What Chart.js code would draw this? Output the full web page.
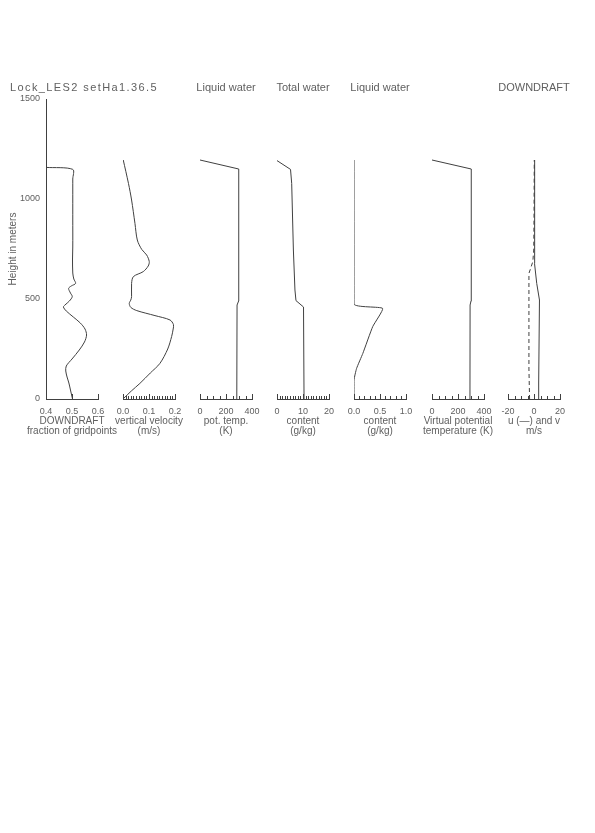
<!DOCTYPE html>
<html>
<head>
<meta charset="utf-8">
<script src="https://cdn.jsdelivr.net/npm/chart.js@4.4.0/dist/chart.umd.min.js"></script>
<style>
  html, body { margin: 0; padding: 0; background: #fff; }
  #page { position: relative; width: 595px; height: 833px; overflow: hidden; background: #fff; }
  #page canvas { position: absolute; }
</style>
</head>
<body>
<div id="page"></div>
<script>
// heights in metres
const heightTicks = [0, 500, 1000, 1500];

const fracHeight = [0, 40, 80, 110, 140, 165, 200, 245, 285, 320, 350, 380, 410, 440, 460, 470, 490, 512, 530, 553, 565, 578, 600, 630, 700, 760, 900, 1000, 1100, 1148, 1158];
const fracValue  = [0.502, 0.495, 0.488, 0.481, 0.476, 0.478, 0.500, 0.528, 0.548, 0.556, 0.550, 0.532, 0.505, 0.478, 0.467, 0.473, 0.490, 0.501, 0.494, 0.487, 0.497, 0.514, 0.507, 0.503, 0.502, 0.503, 0.503, 0.503, 0.503, 0.503, 0.400];

const wHeight = [0, 40, 78, 130, 178, 250, 312, 350, 372, 395, 417, 442, 458, 478, 495, 512, 578, 612, 637, 665, 687, 720, 748, 795, 878, 995, 1078, 1195];
const wValue  = [0.000, 0.032, 0.065, 0.105, 0.142, 0.172, 0.187, 0.193, 0.194, 0.181, 0.123, 0.053, 0.030, 0.024, 0.030, 0.033, 0.033, 0.040, 0.078, 0.097, 0.101, 0.091, 0.072, 0.055, 0.046, 0.033, 0.021, 0.001];

const thetaHeight = [0, 470, 490, 1150, 1195];
const thetaValue  = [283, 285, 297, 298, 0];

const qtHeight = [0, 460, 492, 545, 745, 1078, 1148, 1192];
const qtValue  = [10.4, 10.2, 7.3, 6.9, 6.3, 5.65, 5.2, 0];

const qlHeight = [0, 95, 153, 228, 362, 453, 475, 1195];
const qlValue  = [0.0, 0.0, 0.05, 0.17, 0.36, 0.55, 0.0, 0.0];

const thvHeight = [0, 470, 490, 1150, 1195];
const thvValue  = [292, 293, 300, 302, 0];

const uHeight = [0, 150, 628, 653, 687, 745, 900, 1195];
const uValue  = [-3.4, -3.9, -3.9, -2.6, -0.9, -0.2, 0.0, 0.2];

const vHeight = [0, 80, 495, 578, 678, 1000, 1195];
const vValue  = [3.6, 3.6, 4.2, 2.1, 0.4, 0.5, 0.5];

const panelTitles = ['Lock_LES2 setHa1.36.5', '', 'Liquid water', 'Total water', 'Liquid water', '', 'DOWNDRAFT'];
const axisTitles = [
  ['DOWNDRAFT', 'fraction of gridpoints'],
  ['vertical velocity', '(m/s)'],
  ['pot. temp.', '(K)'],
  ['content', '(g/kg)'],
  ['content', '(g/kg)'],
  ['Virtual potential', 'temperature (K)'],
  ['u (\u2014) and v', 'm/s']
];
const xMin = [0.4, 0, 0, 0, 0, 0, -20];
const xMax = [0.6, 0.2, 400, 20, 1, 400, 20];
const xStep = [0.1, 0.01, 50, 1, 0.1, 50, 5];
const xTickLabels = [
  ['0.4', '0.5', '0.6'],
  ['0.0', '0.1', '0.2'],
  ['0', '200', '400'],
  ['0', '10', '20'],
  ['0.0', '0.5', '1.0'],
  ['0', '200', '400'],
  ['-20', '0', '20']
];

const TEXT = '#606060';
const LINE = '#404040';
const FONT = '"Liberation Sans", Arial, sans-serif';

const panelLeft = [46, 123, 200, 277, 354, 432, 508];
const PANEL_W = 52;
const CANVAS_TOP = 80;
const PAD_TOP = 19;
const PLOT_H = 300;
const XAXIS_H = 20;
const PAD_BOTTOM = 40;

function profile(heights, values) {
    return heights.map((h, i) => ({ x: values[i], y: h }));
}

const panelSeries = [
    [{ data: profile(fracHeight, fracValue), tension: 0.3 }],
    [{ data: profile(wHeight, wValue), tension: 0.3 }],
    [{ data: profile(thetaHeight, thetaValue) }],
    [{ data: profile(qtHeight, qtValue) }],
    [{ data: profile(qlHeight, qlValue), tension: 0.15 }],
    [{ data: profile(thvHeight, thvValue) }],
    [{ data: profile(uHeight, uValue), dash: [4, 3] }, { data: profile(vHeight, vValue) }]
];

// IDL style: ticks point into the plot, titles drawn as plain text
const axisDecor = {
    id: 'axisDecor',
    afterDraw(chart, args, opts) {
        const ctx = chart.ctx;
        const xs = chart.scales.x;
        const area = chart.chartArea;
        ctx.save();
        ctx.strokeStyle = LINE;
        ctx.lineWidth = 1;
        xs.ticks.forEach(t => {
            const px = Math.round(xs.getPixelForValue(t.value)) + 0.5;
            const len = t.label ? 5 : 3;
            ctx.beginPath();
            ctx.moveTo(px, area.bottom);
            ctx.lineTo(px, area.bottom - len);
            ctx.stroke();
        });
        const cx = (area.left + area.right) / 2;
        ctx.fillStyle = TEXT;
        ctx.textBaseline = 'middle';
        if (opts.title) {
            ctx.font = '11px ' + FONT;
            if (opts.titleLeft) {
                ctx.textAlign = 'left';
                if ('letterSpacing' in ctx) ctx.letterSpacing = '1.4px';
                ctx.fillText(opts.title, area.left - 36, area.top - 11);
                if ('letterSpacing' in ctx) ctx.letterSpacing = '0px';
            } else {
                ctx.textAlign = 'center';
                ctx.fillText(opts.title, cx, area.top - 11);
            }
        }
        ctx.font = '10px ' + FONT;
        ctx.textAlign = 'center';
        (opts.xTitle || []).forEach((line, k) => {
            ctx.fillText(line, cx, area.bottom + 22 + k * 10);
        });
        ctx.restore();
    }
};

const page = document.getElementById('page');

panelSeries.forEach((series, i) => {
    const first = i === 0;
    const padLeft = first ? 2 : 40;
    const padRight = first ? 72 : 40;
    const yWidth = first ? 44 : 0;
    const canvas = document.createElement('canvas');
    canvas.width = padLeft + yWidth + PANEL_W + padRight;
    canvas.height = PAD_TOP + PLOT_H + XAXIS_H + PAD_BOTTOM;
    canvas.style.left = (panelLeft[i] - padLeft - yWidth) + 'px';
    canvas.style.top = CANVAS_TOP + 'px';
    page.appendChild(canvas);

    const labels = xTickLabels[i];

    new Chart(canvas, {
        type: 'scatter',
        data: {
            datasets: series.map(s => ({
                data: s.data,
                showLine: true,
                borderColor: LINE,
                borderWidth: 1,
                borderDash: s.dash || [],
                pointRadius: 0,
                tension: s.tension || 0,
                fill: false
            }))
        },
        options: {
            responsive: false,
            animation: false,
            devicePixelRatio: 1,
            layout: { padding: { left: padLeft, right: padRight, top: PAD_TOP, bottom: PAD_BOTTOM } },
            plugins: {
                legend: { display: false },
                tooltip: { enabled: false },
                axisDecor: { title: panelTitles[i], titleLeft: first, xTitle: axisTitles[i] }
            },
            scales: {
                x: {
                    type: 'linear',
                    position: 'bottom',
                    min: xMin[i],
                    max: xMax[i],
                    grid: { display: false, drawTicks: false },
                    border: { display: true, color: LINE, width: 1 },
                    ticks: {
                        stepSize: xStep[i],
                        autoSkip: false,
                        maxRotation: 0,
                        padding: 7,
                        color: TEXT,
                        font: { family: FONT, size: 9 },
                        callback: value => labels.find(l => Math.abs(Number(l) - value) < 1e-6) || ''
                    },
                    afterFit: scale => { scale.height = XAXIS_H; }
                },
                y: {
                    type: 'linear',
                    position: 'left',
                    min: 0,
                    max: 1500,
                    display: first,
                    grid: { display: false, drawTicks: false },
                    border: { display: true, color: LINE, width: 1 },
                    ticks: {
                        stepSize: 500,
                        padding: 6,
                        color: TEXT,
                        font: { family: FONT, size: 9 },
                        callback: value => heightTicks.includes(value) ? String(value) : ''
                    },
                    title: {
                        display: true,
                        text: 'Height in meters',
                        color: TEXT,
                        font: { family: FONT, size: 10 },
                        padding: { top: 5, bottom: 0 }
                    },
                    afterFit: scale => { scale.width = yWidth; }
                }
            }
        },
        plugins: [axisDecor]
    });
});
</script>
</body>
</html>
